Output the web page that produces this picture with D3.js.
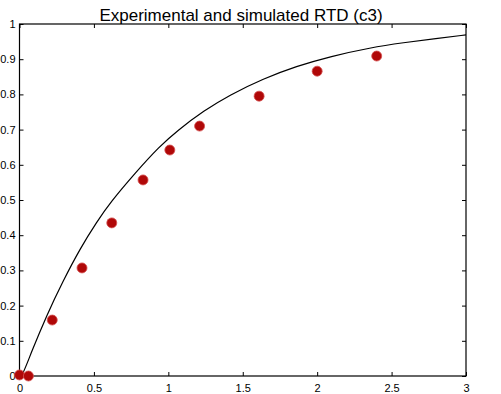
<!DOCTYPE html>
<html><head><meta charset="utf-8">
<script src="https://cdn.jsdelivr.net/npm/d3@7"></script>
<style>body{margin:0;background:#fff;}svg{display:block;}</style>
</head><body>
<script>
const expT = [0, 0.06, 0.22, 0.42, 0.62, 0.83, 1.01, 1.21, 1.61, 2.0, 2.4];
const expY = [0.003, 0.0, 0.159, 0.307, 0.435, 0.557, 0.642, 0.71, 0.795, 0.866, 0.909];
const simT = [0, 0.019, 0.08, 0.18, 0.29, 0.41, 0.52, 0.61, 0.78, 0.94, 1.06, 1.24, 1.41, 1.64, 1.86, 2.09, 2.36, 2.58, 2.8, 3.0];
const simY = [0, 0, 0.068, 0.17, 0.268, 0.364, 0.438, 0.493, 0.578, 0.652, 0.697, 0.754, 0.798, 0.845, 0.88, 0.908, 0.933, 0.947, 0.959, 0.969];
const xTicks = [0, 0.5, 1, 1.5, 2, 2.5, 3];
const yTicks = [0, 0.1, 0.2, 0.3, 0.4, 0.5, 0.6, 0.7, 0.8, 0.9, 1];
const title = "Experimental and simulated RTD (c3)";

const W = 501, H = 394;
const L = 19.5, R = 466, T = 24, B = 376;
const svg = d3.select("body").append("svg").attr("width", W).attr("height", H);
const x = d3.scaleLinear().domain([0, 3]).range([L, R]);
const y = d3.scaleLinear().domain([0, 1]).range([B, T]);

const font = "'Liberation Sans', Arial, sans-serif";
const fmt = d => String(d);

svg.append("g").attr("transform", `translate(0,${B})`)
  .call(d3.axisBottom(x).tickValues(xTicks).tickSize(-4).tickPadding(8).tickFormat(fmt))
  .call(g => { g.select(".domain").remove(); g.selectAll("text").attr("font-size", 11).attr("font-family", font).attr("fill", "#000"); });
svg.append("g").attr("transform", `translate(0,${T})`)
  .call(d3.axisTop(x).tickValues(xTicks).tickSize(-4).tickFormat(""))
  .call(g => g.select(".domain").remove());
svg.append("g").attr("transform", `translate(${L},0)`)
  .call(d3.axisLeft(y).tickValues(yTicks).tickSize(-4).tickPadding(4).tickFormat(fmt))
  .call(g => { g.select(".domain").remove(); g.selectAll("text").attr("font-size", 11).attr("font-family", font).attr("fill", "#000"); });
svg.append("g").attr("transform", `translate(${R},0)`)
  .call(d3.axisRight(y).tickValues(yTicks).tickSize(-4).tickFormat(""))
  .call(g => g.select(".domain").remove());

svg.append("rect").attr("x", L).attr("y", T).attr("width", R - L).attr("height", B - T)
  .attr("fill", "none").attr("stroke", "#000").attr("stroke-width", 1.2);

svg.append("text").attr("x", 241).attr("y", 21).attr("text-anchor", "middle")
  .attr("font-family", font).attr("font-size", 17).text(title);

const sim = simT.map((t, i) => [t, simY[i]]);
svg.append("path").datum(sim)
  .attr("d", d3.line().x(d => x(d[0])).y(d => y(d[1])).curve(d3.curveBasis))
  .attr("fill", "none").attr("stroke", "#000").attr("stroke-width", 1.2);

const pts = expT.map((t, i) => [t, expY[i]]);
svg.append("g").selectAll("circle").data(pts).join("circle")
  .attr("cx", d => x(d[0])).attr("cy", d => y(d[1])).attr("r", 5)
  .attr("fill", "#b00808").attr("stroke", "#d45050").attr("stroke-width", 0.8);
</script>
</body></html>
